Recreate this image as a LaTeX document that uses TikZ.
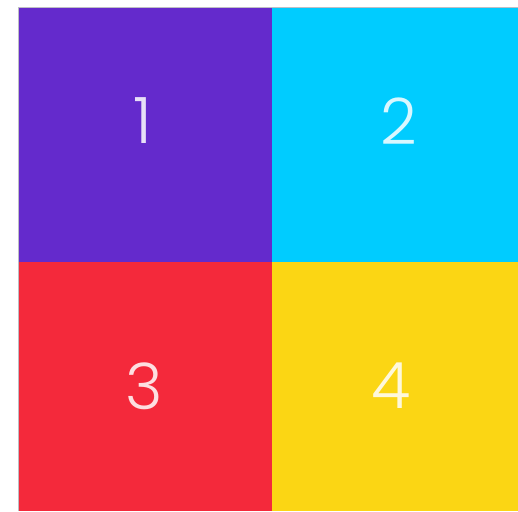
\documentclass[tikz,border=0pt]{standalone}
\usepackage{fontspec}
\newfontfamily\digfont{Poppins Light}
\definecolor{cpurple}{RGB}{100,42,204}
\definecolor{ccyan}{RGB}{0,204,255}
\definecolor{cred}{RGB}{244,41,59}
\definecolor{cyellow}{RGB}{251,214,20}
\definecolor{cedge}{RGB}{190,190,196}
\tikzset{
  digit/.style={text=white, text opacity=0.85, font=\digfont\fontsize{64}{64}\selectfont, inner sep=0pt}
}
\begin{document}
\begin{tikzpicture}[x=1pt,y=-1pt]
\useasboundingbox (0,0) rectangle (518,511);
\fill[cpurple] (19,8) rectangle (272,262);
\fill[ccyan] (272,8) rectangle (518,262);
\fill[cred] (19,262) rectangle (272,511);
\fill[cyellow] (272,262) rectangle (518,511);
\draw[cedge, line width=0.8pt] (18.6,511) -- (18.6,7.6) -- (518,7.6);
\node[digit] (d1) at (143,121) {1};
\node[digit] (d2) at (399,121) {2};
\node[digit] (d3) at (144,386) {3};
\node[digit] (d4) at (391,386) {4};
\end{tikzpicture}
\end{document}
